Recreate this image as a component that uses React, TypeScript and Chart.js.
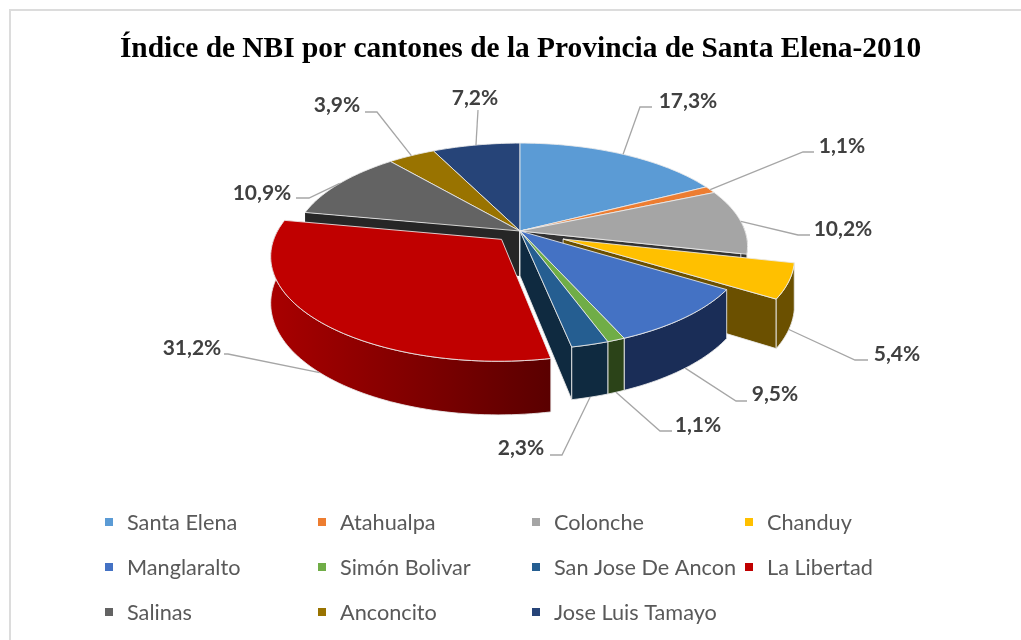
import React, { useEffect, useRef } from "react";
import { Chart, registerables } from "chart.js";

Chart.register(...registerables);

const cantones = ["Santa Elena", "Atahualpa", "Colonche", "Chanduy", "Manglaralto", "Simón Bolivar", "San Jose De Ancon", "La Libertad", "Salinas", "Anconcito", "Jose Luis Tamayo"];
const valores = [17.3, 1.1, 10.2, 5.4, 9.5, 1.1, 2.3, 31.2, 10.9, 3.9, 7.2];
const colores = ["#5B9BD5", "#ED7D31", "#A5A5A5", "#FFC000", "#4472C4", "#70AD47", "#255E91", "#C00000", "#636363", "#997300", "#264478"];
const paredes = [
  ["#24415a", "#24415a"], ["#5f3214", "#5f3214"], ["#333333", "#333333"], ["#6b5000", "#6b5000"],
  ["#1a2d57", "#1a2d57"], ["#2b4318", "#2b4318"], ["#0f2a40", "#0f2a40"], ["#a80000", "#5a0000"],
  ["#262626", "#262626"], ["#3d2e00", "#3d2e00"], ["#0f1b30", "#0f1b30"],
];
const explosion = [0, 0, 0, 0.205, 0, 0, 0, 0.115, 0, 0, 0];
const titulo = "Índice de NBI por cantones de la Provincia de Santa Elena-2010";

// label layout: centre of text, then elbow points of the leader; "front" hangs it from the lower rim
const etiquetas = [
  { t: [688, 101], p: [[640, 107], [652, 107]], front: false },
  { t: [842, 146], p: [[803, 152], [814, 152]], front: false },
  { t: [843, 229], p: [[798, 235], [810, 235]], front: false },
  { t: [897, 354], p: [[855, 360], [868, 360]], front: true },
  { t: [775, 394], p: [[736, 401], [747, 401]], front: true },
  { t: [698, 425], p: [[660, 431], [672, 431]], front: true },
  { t: [521, 448], p: [[562, 455], [550, 455]], front: true },
  { t: [192, 348], p: [[228, 354], [224, 354]], front: true },
  { t: [262, 193], p: [[309, 198], [296, 198]], front: false },
  { t: [337, 105], p: [[377, 112], [365, 112]], front: false },
  { t: [475, 98], p: [[478, 110]], front: false },
];
const columnasLeyenda = [105, 318, 532, 745];
const filasLeyenda = [522, 567, 612];

const CX = 520, CY = 231, RX = 225, RY = 101, K = 0.149, DEPTH = 45;

function proyectar(a: number, r: number, ex: number, mid: number, z = 0) {
  const u = r * Math.cos(a) + ex * Math.cos(mid);
  const v = r * Math.sin(a) + ex * Math.sin(mid);
  const w = 1 - K * v;
  return { x: CX + (RX * u) / w, y: CY + (RY * v) / w + (z * DEPTH) / w };
}

function camino(ctx: CanvasRenderingContext2D, pts: { x: number; y: number }[]) {
  ctx.beginPath();
  pts.forEach((p, i) => (i ? ctx.lineTo(p.x, p.y) : ctx.moveTo(p.x, p.y)));
  ctx.closePath();
}

const pie3d = {
  id: "pie3d",
  beforeDraw(chart: any) {
    const { ctx, width, height } = chart;
    ctx.save();
    ctx.fillStyle = "#ffffff";
    ctx.fillRect(0, 0, width, height);
    ctx.strokeStyle = "#dcdcdc";
    ctx.lineWidth = 2;
    ctx.strokeRect(10, 10, width + 20, height + 20);
    ctx.restore();
  },
  beforeDatasetDraw(chart: any) {
    const { ctx } = chart;
    const arcos = chart.getDatasetMeta(0).data.map((el: any, i: number) => {
      const { startAngle, endAngle } = el.getProps(["startAngle", "endAngle"], true);
      const mid = (startAngle + endAngle) / 2;
      const ex = explosion[i];
      return { i, startAngle, endAngle, mid, ex, vm: Math.sin(mid) * (1 + ex) };
    });
    const orden = [...arcos].sort((a, b) => a.vm - b.vm);
    ctx.save();
    ctx.lineJoin = "round";
    for (const s of orden) {
      const n = Math.max(4, Math.ceil((s.endAngle - s.startAngle) * 40));
      const angulo = (k: number) => s.startAngle + ((s.endAngle - s.startAngle) * k) / n;
      const borde = (z: number) => {
        const out = [];
        for (let k = 0; k <= n; k++) out.push(proyectar(angulo(k), 1, s.ex, s.mid, z));
        return out;
      };
      const arriba = borde(0);
      const abajo = borde(1);
      const c0 = proyectar(0, 0, s.ex, s.mid, 0);
      const c1 = proyectar(0, 0, s.ex, s.mid, 1);
      ctx.strokeStyle = "rgba(235,235,235,0.85)";
      ctx.lineWidth = 1;
      // radial walls that face the viewer
      ctx.fillStyle = paredes[s.i][1];
      if (Math.cos(s.startAngle) < 0) {
        camino(ctx, [c0, arriba[0], abajo[0], c1]);
        ctx.fill();
      }
      if (Math.cos(s.endAngle) > 0) {
        camino(ctx, [c0, arriba[n], abajo[n], c1]);
        ctx.fill();
        ctx.stroke();
      }
      // outer wall, front part only
      const sup = [], inf = [];
      for (let k = 0; k <= n; k++) {
        if (Math.sin(angulo(k)) > -0.12) {
          sup.push(arriba[k]);
          inf.push(abajo[k]);
        }
      }
      if (sup.length > 1) {
        const xs = sup.map((p) => p.x);
        const g = ctx.createLinearGradient(Math.min(...xs), 0, Math.max(...xs), 0);
        g.addColorStop(0, paredes[s.i][0]);
        g.addColorStop(1, paredes[s.i][1]);
        ctx.fillStyle = g;
        camino(ctx, [...sup, ...inf.reverse()]);
        ctx.fill();
        ctx.stroke();
      }
      // top face
      ctx.fillStyle = colores[s.i];
      camino(ctx, [c0, ...arriba]);
      ctx.fill();
      ctx.stroke();
    }
    ctx.restore();
    return false;
  },
  afterDraw(chart: any) {
    const { ctx } = chart;
    const arcos = chart.getDatasetMeta(0).data;
    ctx.save();
    // leaders and percentage labels
    arcos.forEach((el: any, i: number) => {
      const { startAngle, endAngle } = el.getProps(["startAngle", "endAngle"], true);
      const mid = (startAngle + endAngle) / 2;
      const e = etiquetas[i];
      const ini = proyectar(mid, 1, explosion[i], mid, e.front ? 1 : 0);
      ctx.strokeStyle = "#a6a6a6";
      ctx.lineWidth = 1.3;
      ctx.beginPath();
      ctx.moveTo(ini.x, ini.y);
      e.p.forEach((q) => ctx.lineTo(q[0], q[1]));
      ctx.stroke();
      ctx.fillStyle = "#404040";
      ctx.font = "bold 21px Lato";
      ctx.textAlign = "center";
      ctx.textBaseline = "middle";
      ctx.fillText(valores[i].toFixed(1).replace(".", ",") + "%", e.t[0], e.t[1]);
    });
    // legend
    cantones.forEach((nombre, i) => {
      const x = columnasLeyenda[i % 4];
      const y = filasLeyenda[Math.floor(i / 4)];
      ctx.fillStyle = colores[i];
      ctx.fillRect(x, y - 4, 8, 8);
      ctx.fillStyle = "#595959";
      ctx.font = "21.7px Lato";
      ctx.textAlign = "left";
      ctx.textBaseline = "middle";
      ctx.fillText(nombre, x + 22, y + 1);
    });
    ctx.restore();
  },
};

export default function App() {
  const ref = useRef<HTMLCanvasElement>(null);
  useEffect(() => {
    document.body.style.margin = "0";
    const chart = new Chart(ref.current as HTMLCanvasElement, {
      type: "pie",
      data: {
        labels: cantones,
        datasets: [{ data: valores, backgroundColor: colores }],
      },
      options: {
        responsive: false,
        animation: false,
        layout: { padding: { top: 32, left: 20 } },
        plugins: {
          legend: { display: false },
          tooltip: { enabled: false },
          title: {
            display: true,
            text: titulo,
            color: "#000000",
            font: { family: "'Liberation Serif'", size: 29.4, weight: "bold" },
            padding: 0,
          },
        },
      },
      plugins: [pie3d],
    } as any);
    return () => chart.destroy();
  }, []);
  return <canvas ref={ref} width={1021} height={640} style={{ display: "block" }} />;
}
